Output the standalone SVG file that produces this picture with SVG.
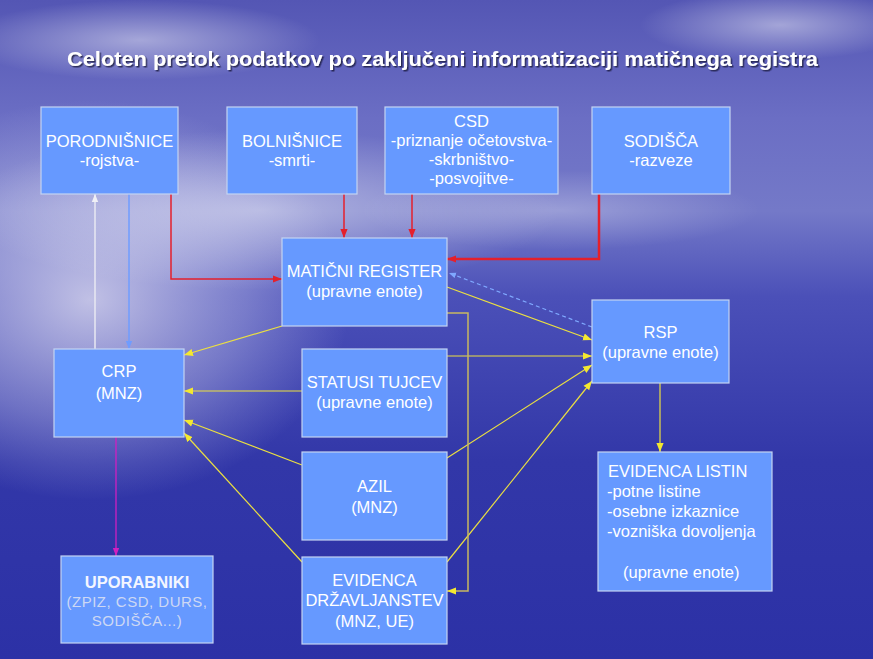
<svg xmlns="http://www.w3.org/2000/svg" width="873" height="659" viewBox="0 0 873 659">
<defs>
<linearGradient id="bg" x1="0" y1="0" x2="0" y2="1">
<stop offset="0" stop-color="#5456b4"/>
<stop offset="0.18" stop-color="#6b6ec4"/>
<stop offset="0.32" stop-color="#7479c8"/>
<stop offset="0.45" stop-color="#4b50b8"/>
<stop offset="0.7" stop-color="#3237a8"/>
<stop offset="1" stop-color="#2c31a6"/>
</linearGradient>
<radialGradient id="glowL" cx="0.5" cy="0.5" r="0.5">
<stop offset="0" stop-color="#e8e6f4" stop-opacity="0.75"/>
<stop offset="0.6" stop-color="#d0d0ee" stop-opacity="0.35"/>
<stop offset="1" stop-color="#c8c8ee" stop-opacity="0"/>
</radialGradient>
<radialGradient id="cloud" cx="0.5" cy="0.5" r="0.5">
<stop offset="0" stop-color="#ffffff" stop-opacity="0.45"/>
<stop offset="1" stop-color="#ffffff" stop-opacity="0"/>
</radialGradient>
<filter id="shadow" x="-5%" y="-30%" width="110%" height="160%">
<feDropShadow dx="1.5" dy="1.5" stdDeviation="0.6" flood-color="#1a1a40" flood-opacity="0.8"/>
</filter>
<marker id="aR" viewBox="0 0 10 10" refX="10" refY="5" markerWidth="9" markerHeight="9" markerUnits="userSpaceOnUse" orient="auto"><path d="M0,1 L10,5 L0,9 z" fill="#e4202c"/></marker>
<marker id="aY" viewBox="0 0 10 10" refX="10" refY="5" markerWidth="9" markerHeight="9" markerUnits="userSpaceOnUse" orient="auto"><path d="M0,1 L10,5 L0,9 z" fill="#f4e830"/></marker>
<marker id="aW" viewBox="0 0 10 10" refX="10" refY="5" markerWidth="8" markerHeight="8" markerUnits="userSpaceOnUse" orient="auto"><path d="M0,1 L10,5 L0,9 z" fill="#f0f0f6"/></marker>
<marker id="aB" viewBox="0 0 10 10" refX="10" refY="5" markerWidth="8" markerHeight="8" markerUnits="userSpaceOnUse" orient="auto"><path d="M0,1 L10,5 L0,9 z" fill="#6f9cff"/></marker>
<marker id="aM" viewBox="0 0 10 10" refX="10" refY="5" markerWidth="8" markerHeight="8" markerUnits="userSpaceOnUse" orient="auto"><path d="M0,1 L10,5 L0,9 z" fill="#d020c0"/></marker>
<marker id="aL" viewBox="0 0 10 10" refX="10" refY="5" markerWidth="7" markerHeight="7" markerUnits="userSpaceOnUse" orient="auto"><path d="M0,1 L10,5 L0,9 z" fill="#7fa8ff"/></marker>
</defs>
<style>
.box{fill:#6699ff;stroke:#c4d4f2;stroke-width:1.2}
.t{font-family:"Liberation Sans",Arial,sans-serif;font-size:16.5px;fill:#ffffff;text-anchor:middle}
.tl{font-family:"Liberation Sans",Arial,sans-serif;font-size:16.5px;fill:#ffffff}
.red{fill:none;stroke:#e4202c;stroke-width:1.5}
.yel{fill:none;stroke:#ece040;stroke-width:1.2}
</style>
<rect x="0" y="0" width="873" height="659" fill="url(#bg)"/>
<ellipse cx="90" cy="300" rx="260" ry="200" fill="url(#glowL)"/>
<ellipse cx="260" cy="210" rx="300" ry="80" fill="url(#cloud)"/>
<ellipse cx="140" cy="40" rx="180" ry="40" fill="url(#cloud)"/>
<ellipse cx="780" cy="25" rx="140" ry="35" fill="url(#cloud)"/>
<ellipse cx="560" cy="210" rx="200" ry="40" fill="url(#cloud)" opacity="0.6"/>

<text x="67" y="66" textLength="751" lengthAdjust="spacingAndGlyphs" filter="url(#shadow)" style="font-family:'Liberation Sans',Arial,sans-serif;font-size:21px;font-weight:bold;fill:#ffffff">Celoten pretok podatkov po zaključeni informatizaciji matičnega registra</text>

<g id="connectors">
<path class="red" d="M171,194 V279 H282" marker-end="url(#aR)"/>
<path class="red" d="M344,194 V238" marker-end="url(#aR)"/>
<path class="red" d="M412,194 V238" marker-end="url(#aR)"/>
<path class="red" d="M599,194 V259 H447" style="stroke-width:2.5" marker-end="url(#aR)"/>
<path d="M592,327 L449,273" fill="none" stroke="#7fa8ff" stroke-width="1.2" stroke-dasharray="4 3" marker-end="url(#aL)"/>
<path class="yel" d="M447,287 L592,340" marker-end="url(#aY)"/>
<path class="yel" d="M447,356 L592,356" marker-end="url(#aY)"/>
<path class="yel" d="M447,458 L592,365" marker-end="url(#aY)"/>
<path class="yel" d="M447,562 L592,381" marker-end="url(#aY)"/>
<path class="yel" d="M282,326 L184,355" marker-end="url(#aY)"/>
<path class="yel" d="M302,391 L184,391" marker-end="url(#aY)"/>
<path class="yel" d="M302,465 L184,420" marker-end="url(#aY)"/>
<path class="yel" d="M302,562 L184,433" marker-end="url(#aY)"/>
<path class="yel" d="M660,383 V452" marker-end="url(#aY)"/>
<path d="M447,313 H468 V591 H447" fill="none" stroke="#c8b860" stroke-width="1.5" marker-end="url(#aY)"/>
<path d="M95,349 V194" fill="none" stroke="#e8e8f2" stroke-width="1.5" marker-end="url(#aW)"/>
<path d="M129,194 V349" fill="none" stroke="#6f9cff" stroke-width="1.5" marker-end="url(#aB)"/>
<path d="M116,437 V556" fill="none" stroke="#d020c0" stroke-width="1.3" marker-end="url(#aM)"/>
</g>

<g id="porodnisnice">
<rect class="box" x="41" y="107" width="137" height="87"/>
<text class="t" x="109.5" y="147">PORODNIŠNICE</text>
<text class="t" x="109.5" y="166">-rojstva-</text>
</g>
<g id="bolnisnice">
<rect class="box" x="227" y="107" width="130" height="87"/>
<text class="t" x="292" y="147">BOLNIŠNICE</text>
<text class="t" x="292" y="166">-smrti-</text>
</g>
<g id="csd">
<rect class="box" x="385" y="107" width="173" height="87"/>
<text class="t" x="471.5" y="127">CSD</text>
<text class="t" x="471.5" y="146">-priznanje očetovstva-</text>
<text class="t" x="471.5" y="165">-skrbništvo-</text>
<text class="t" x="471.5" y="184">-posvojitve-</text>
</g>
<g id="sodisca">
<rect class="box" x="592" y="107" width="138" height="87"/>
<text class="t" x="661" y="147">SODIŠČA</text>
<text class="t" x="661" y="166">-razveze</text>
</g>
<g id="maticni-register">
<rect class="box" x="282" y="238" width="165" height="88"/>
<text class="t" x="364.5" y="277">MATIČNI REGISTER</text>
<text class="t" x="364.5" y="297">(upravne enote)</text>
</g>
<g id="rsp">
<rect class="box" x="592" y="300" width="137" height="83"/>
<text class="t" x="660.5" y="338">RSP</text>
<text class="t" x="660.5" y="358">(upravne enote)</text>
</g>
<g id="crp">
<rect class="box" x="54" y="349" width="130" height="88"/>
<text class="t" x="119" y="377">CRP</text>
<text class="t" x="119" y="399">(MNZ)</text>
</g>
<g id="statusi-tujcev">
<rect class="box" x="302" y="349" width="145" height="88"/>
<text class="t" x="374.5" y="388">STATUSI TUJCEV</text>
<text class="t" x="374.5" y="408">(upravne enote)</text>
</g>
<g id="azil">
<rect class="box" x="302" y="452" width="145" height="88"/>
<text class="t" x="374.5" y="492">AZIL</text>
<text class="t" x="374.5" y="513">(MNZ)</text>
</g>
<g id="evidenca-drzavljanstev">
<rect class="box" x="302" y="557" width="145" height="87"/>
<text class="t" x="374.5" y="586">EVIDENCA</text>
<text class="t" x="374.5" y="606">DRŽAVLJANSTEV</text>
<text class="t" x="374.5" y="627">(MNZ, UE)</text>
</g>
<g id="uporabniki">
<rect class="box" x="61" y="556" width="152" height="87"/>
<text class="t" x="137" y="588" style="font-weight:bold;fill:#f4f6ff">UPORABNIKI</text>
<text class="t" x="137" y="607" style="font-size:15px;fill:#cdd8f4;letter-spacing:0.5px">(ZPIZ, CSD, DURS,</text>
<text class="t" x="137" y="626" style="font-size:15px;fill:#cdd8f4;letter-spacing:0.5px">SODIŠČA...)</text>
</g>
<g id="evidenca-listin">
<rect class="box" x="598" y="452" width="174" height="139"/>
<text class="tl" x="608" y="477">EVIDENCA LISTIN</text>
<text class="tl" x="607" y="497">-potne listine</text>
<text class="tl" x="607" y="517">-osebne izkaznice</text>
<text class="tl" x="607" y="537">-vozniška dovoljenja</text>
<text class="tl" x="623" y="578">(upravne enote)</text>
</g>
</svg>
